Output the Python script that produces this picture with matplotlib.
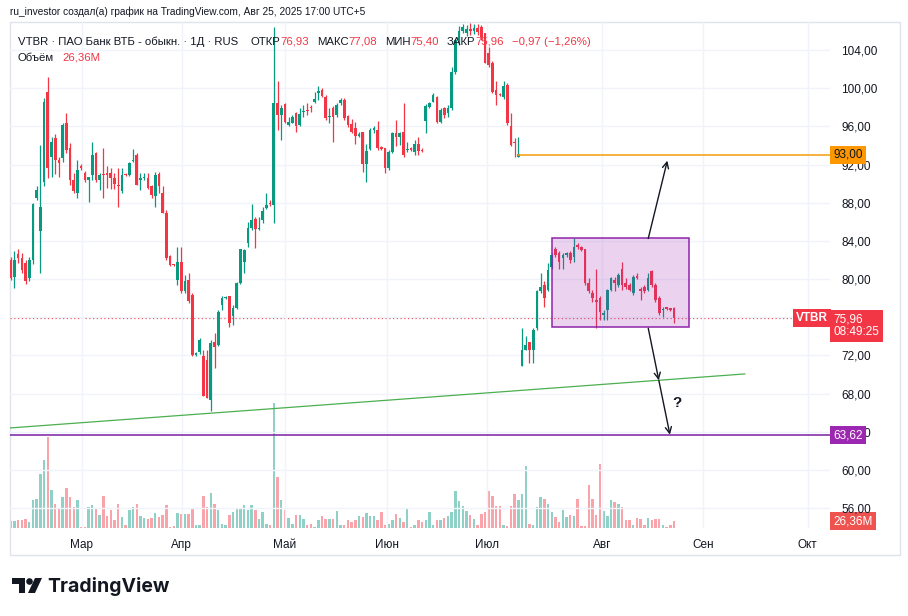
import matplotlib
matplotlib.use('Agg')
import matplotlib.pyplot as plt
from matplotlib.patches import Rectangle, Polygon, Ellipse

plt.rcParams['font.family'] = ['Liberation Sans', 'DejaVu Sans']

W, H = 908, 616

# daily candles, Feb .. Aug 25 2025 (one entry per bar)
opens = [82.0, 80.25, 82.6, 82.2, 81.7, 80.1, 82.0, 88.5, 85.0, 90.2,
         99.6, 92.8, 94.75, 92.5, 92.65, 96.3, 93.7, 90.4, 89.0, 91.85,
         91.1, 90.4, 90.9, 93.2, 90.4, 91.0, 91.1, 91.1, 90.6, 89.9,
         89.2, 91.0, 90.9, 92.4, 93.0, 90.4, 90.55, 90.6, 89.7, 88.65,
         91.05, 89.0, 86.9, 82.4, 81.5, 79.9, 81.8, 78.7, 79.9, 78.3,
         72.0, 72.4, 71.9, 71.5, 67.3, 73.45, 73.1, 77.3, 78.0, 78.2,
         76.1, 76.95, 79.6, 81.8, 83.75, 85.3, 86.25, 85.2, 86.2, 87.4,
         87.95, 87.8, 98.4, 97.2, 98.35, 96.15, 96.4, 97.4, 96.15, 97.55,
         97.7, 98.0, 98.5, 99.5, 99.8, 99.1, 96.95, 97.9, 97.2, 98.4,
         98.8, 97.1, 96.25, 95.8, 95.0, 95.45, 92.1, 93.6, 95.6, 95.6,
         93.8, 93.7, 91.6, 93.35, 95.3, 94.9, 95.45, 93.5, 93.7, 93.35,
         94.2, 93.55, 96.6, 98.05, 98.6, 99.1, 96.5, 97.9, 97.37, 97.9,
         101.7, 105.0, 106.0, 105.8, 106.2, 106.0, 106.3, 106.4, 105.75, 103.65,
         102.6, 99.8, 99.4, 99.1, 100.3, 96.0, 94.4, 92.8, 70.9, 72.6,
         73.45, 72.6, 74.85, 78.7, 79.4, 78.87, 81.3, 83.2, 82.7, 82.2,
         82.5, 82.7, 82.35, 83.57, 83.4, 83.2, 79.55, 78.5, 77.8, 78.0,
         76.25, 76.8, 78.9, 79.9, 79.4, 81.1, 79.55, 79.4, 78.5, 80.3,
         79.0, 79.2, 78.85, 80.8, 79.4, 78.0, 76.75, 77.05, 76.95, 76.93]
highs = [82.35, 82.9, 83.2, 82.7, 82.0, 82.3, 88.0, 89.75, 94.05, 99.0,
         101.2, 94.9, 95.2, 92.8, 96.3, 97.4, 94.3, 91.1, 92.5, 92.05,
         91.3, 90.7, 94.4, 93.35, 91.1, 93.7, 91.8, 91.6, 91.1, 91.6,
         91.6, 91.1, 92.3, 93.6, 93.2, 91.1, 91.1, 91.1, 89.9, 91.25,
         91.25, 89.7, 87.25, 82.5, 81.6, 83.4, 83.4, 80.4, 80.6, 78.5,
         72.4, 73.8, 72.6, 72.6, 73.6, 74.3, 76.8, 78.2, 78.2, 78.2,
         77.3, 79.7, 83.2, 83.2, 86.0, 87.9, 86.5, 86.5, 87.6, 89.0,
         88.3, 106.4, 100.7, 98.2, 98.4, 97.0, 97.2, 97.5, 97.9, 98.2,
         98.4, 98.2, 99.6, 100.2, 100.0, 99.3, 97.9, 98.1, 98.4, 98.95,
         98.95, 97.2, 96.8, 96.5, 95.45, 95.45, 94.2, 95.8, 96.0, 96.56,
         93.9, 93.7, 93.5, 95.45, 96.7, 95.45, 98.4, 94.4, 93.8, 94.6,
         94.85, 93.7, 98.3, 98.6, 99.45, 99.2, 97.9, 98.07, 98.2, 102.25,
         105.2, 106.5, 106.7, 106.6, 106.8, 106.7, 106.7, 106.6, 105.75, 104.35,
         102.8, 100.7, 99.5, 100.7, 100.5, 97.37, 94.75, 94.9, 74.9, 74.0,
         73.45, 74.85, 78.87, 80.6, 79.75, 81.7, 82.7, 83.4, 82.9, 82.7,
         82.8, 82.9, 84.27, 83.75, 83.5, 83.2, 80.1, 78.9, 81.1, 78.2,
         76.8, 79.0, 80.25, 80.25, 80.6, 81.8, 80.1, 79.55, 80.4, 80.6,
         79.2, 79.4, 80.6, 80.95, 79.55, 78.2, 77.1, 77.1, 77.0, 77.08]
lows = [79.85, 79.05, 81.7, 80.6, 79.5, 79.8, 81.6, 88.3, 80.6, 89.8,
        90.6, 90.7, 91.0, 90.7, 92.3, 93.2, 89.9, 89.0, 88.5, 91.45,
        90.2, 88.1, 90.4, 90.2, 89.3, 88.5, 89.5, 89.4, 89.4, 87.6,
        89.0, 90.8, 90.8, 92.3, 89.85, 89.3, 90.4, 89.4, 88.5, 87.6,
        89.0, 86.9, 82.0, 81.4, 81.35, 79.4, 78.5, 78.5, 77.5, 71.9,
        71.9, 72.2, 67.7, 67.5, 66.2, 70.7, 73.0, 76.8, 77.9, 75.0,
        75.2, 76.9, 79.5, 80.6, 83.4, 85.15, 83.3, 85.15, 85.85, 87.3,
        87.7, 85.85, 95.6, 94.6, 96.3, 96.0, 96.3, 95.45, 96.0, 97.0,
        97.2, 97.5, 98.4, 98.8, 99.1, 96.7, 96.3, 94.4, 97.0, 98.2,
        96.7, 95.97, 95.3, 94.2, 94.85, 91.26, 90.2, 93.5, 95.3, 93.5,
        93.5, 91.1, 91.4, 93.2, 93.9, 94.05, 92.8, 93.35, 93.4, 93.0,
        93.0, 93.35, 95.3, 97.9, 98.5, 96.4, 96.3, 96.85, 97.0, 97.7,
        101.5, 104.5, 105.8, 105.5, 105.6, 105.7, 105.6, 105.05, 102.6, 102.25,
        99.46, 98.2, 99.2, 98.9, 96.15, 93.9, 92.8, 92.76, 70.85, 72.6,
        71.2, 71.2, 74.7, 78.5, 77.12, 78.7, 81.1, 82.35, 81.1, 81.1,
        82.3, 81.65, 81.8, 83.2, 82.9, 79.38, 78.5, 77.6, 74.85, 75.7,
        75.7, 75.7, 78.7, 78.7, 79.2, 78.9, 79.0, 78.7, 78.35, 79.98,
        77.8, 78.5, 78.7, 79.2, 77.6, 76.2, 76.06, 76.8, 76.7, 75.40]
closes = [80.1, 82.0, 82.2, 80.95, 79.75, 82.0, 87.9, 89.35, 87.6, 98.6,
          91.6, 94.4, 92.5, 92.2, 96.15, 93.5, 90.4, 89.2, 91.4, 91.6,
          90.4, 90.7, 93.0, 90.4, 90.9, 90.9, 90.9, 90.6, 90.0, 89.8,
          90.9, 90.85, 92.2, 92.5, 89.9, 90.6, 90.6, 89.5, 88.8, 90.9,
          89.7, 86.9, 82.2, 81.5, 81.45, 81.8, 78.7, 79.75, 77.65, 72.05,
          72.3, 73.6, 67.7, 67.5, 73.3, 72.9, 76.6, 78.0, 78.05, 75.4,
          76.95, 79.6, 83.2, 83.0, 85.3, 86.2, 85.2, 85.4, 87.1, 87.75,
          87.9, 98.4, 97.2, 97.9, 96.5, 96.5, 97.0, 96.0, 97.3, 97.6,
          97.65, 97.9, 98.9, 99.7, 99.2, 96.85, 97.1, 97.0, 98.2, 98.8,
          96.85, 96.15, 95.45, 95.0, 95.2, 92.1, 93.45, 95.6, 95.8, 93.7,
          93.6, 91.6, 93.35, 95.3, 94.9, 95.3, 93.0, 93.6, 93.5, 94.2,
          93.4, 93.45, 98.1, 98.4, 99.3, 96.5, 97.7, 97.2, 97.9, 101.7,
          105.0, 106.0, 106.4, 106.2, 106.0, 106.3, 105.9, 105.4, 102.6, 102.4,
          99.6, 99.3, 99.3, 100.2, 96.3, 94.05, 94.3, 93.1, 72.6, 73.1,
          72.6, 74.7, 78.7, 79.2, 78.0, 80.97, 82.5, 82.5, 81.8, 82.5,
          82.7, 82.0, 83.4, 83.4, 83.05, 79.55, 78.7, 78.0, 77.6, 76.6,
          76.4, 78.9, 80.1, 79.55, 80.4, 79.4, 79.2, 78.9, 80.25, 80.1,
          78.7, 78.7, 80.1, 79.4, 77.8, 76.4, 76.9, 76.85, 76.75, 75.96]
# volume, millions of shares
volumes = [26, 26, 29, 29, 35, 23, 105, 111, 205, 256,
           344, 142, 92, 73, 117, 149, 117, 79, 107, 4,
           4, 79, 86, 73, 48, 120, 44, 67, 32, 89,
           42, 10, 67, 79, 92, 44, 39, 35, 39, 57,
           42, 48, 86, 4, 8, 57, 54, 52, 54, 77,
           10, 10, 120, 79, 130, 89, 67, 14, 10, 48,
           60, 73, 73, 86, 67, 86, 67, 35, 60, 14,
           10, 471, 193, 105, 67, 39, 14, 48, 48, 35,
           10, 16, 4, 29, 44, 35, 35, 35, 64, 13,
           13, 29, 23, 32, 44, 42, 57, 44, 44, 29,
           60, 10, 16, 29, 54, 39, 23, 77, 4, 10,
           32, 23, 29, 60, 10, 29, 32, 39, 44, 60,
           139, 102, 82, 64, 48, 35, 10, 54, 60, 140,
           120, 82, 82, 10, 6, 82, 127, 105, 127, 234,
           14, 10, 79, 115, 111, 89, 60, 42, 23, 67,
           42, 48, 44, 111, 6, 6, 161, 111, 50, 243,
           63, 44, 105, 98, 92, 79, 32, 32, 10, 39,
           35, 10, 39, 32, 35, 35, 10, 4, 10, 26.36]

month_labels = ['Мар', 'Апр', 'Май', 'Июн', 'Июл', 'Авг', 'Сен', 'Окт']
month_pos = [19.1, 46.1, 74.0, 101.5, 128.5, 159.6, 186.8, 215.1]
price_ticks = [56, 60, 64, 68, 72, 76, 80, 84, 88, 92, 96, 100, 104]

level_top = 93.00
level_low = 63.62
last_price = 75.96
trend_x = [-0.2, 198.1]
trend_y = [64.4, 70.06]
box_x = [146.1, 183.0]
box_y = [74.98, 84.3]
arrows = [((172.05, 84.25), (177.2, 92.4)),
          ((172.05, 74.85), (174.9, 69.4)),
          ((174.9, 69.4), (177.9, 63.7))]

UP = '#089981'
DOWN = '#f23645'
TXT = '#131722'


def px(x, y):
    return x / W, 1 - y / H


fig = plt.figure(figsize=(W / 100, H / 100), dpi=100)
rect = [10 / W, 1 - 528 / H, 820 / W, 506 / H]

# volume pane underneath
axv = fig.add_axes(rect, zorder=0)
n = len(closes)
xs = list(range(n))
vcol = [UP if c >= o else DOWN for o, c in zip(opens, closes)]
axv.bar(xs, volumes, width=0.66, color=vcol, alpha=0.45, linewidth=0)
axv.set_xlim(-0.2, 221.1)
axv.set_ylim(0, max(volumes) * 506 / 125)
axv.axis('off')

ax = fig.add_axes(rect, zorder=1)
ax.patch.set_visible(False)
ax.set_xlim(-0.2, 221.1)
ax.set_ylim(53.92, 106.93)
for s in ax.spines.values():
    s.set_visible(False)

ax.set_yticks(price_ticks)
# 76,00 sits under the last-price box, so its label is not shown
ax.set_yticklabels(['' if t == 76 else f'{t:.2f}'.replace('.', ',') for t in price_ticks])
ax.yaxis.tick_right()
ax.set_xticks(month_pos)
ax.set_xticklabels(month_labels)
ax.tick_params(axis='y', length=0, pad=8, labelsize=8.5, labelcolor=TXT)
ax.tick_params(axis='x', length=0, pad=8, labelsize=8.5, labelcolor=TXT)
ax.grid(True, color='#f0f3fa', lw=1, zorder=0)

# candles
ccol = [UP if c >= o else DOWN for o, c in zip(opens, closes)]
ax.vlines(xs, lows, highs, colors=ccol, lw=0.9, zorder=2)
bottoms = [min(o, c) for o, c in zip(opens, closes)]
heights = [max(abs(c - o), 0.1) for o, c in zip(opens, closes)]
ax.bar(xs, heights, bottom=bottoms, width=0.72, color=ccol, linewidth=0, zorder=3)

# drawings
ax.axhline(last_price, color=DOWN, lw=0.9, ls=(0, (1, 2)), zorder=1)
ax.plot(trend_x, trend_y, color='#4caf50', lw=0.9, zorder=4)
ax.plot([137, 221.1], [level_top, level_top], color='#f29d0c', lw=1.1, zorder=4)
ax.axhline(level_low, color='#7b1fa2', lw=1.1, zorder=4)
ax.add_patch(Rectangle((box_x[0], box_y[0]), box_x[1] - box_x[0], box_y[1] - box_y[0],
                       facecolor=(0.61, 0.15, 0.69, 0.2), edgecolor='#8e24aa', lw=1.1, zorder=5))
for start, end in arrows:
    ax.annotate('', xy=end, xytext=start,
                arrowprops=dict(arrowstyle='->', color=TXT, lw=1, shrinkA=0, shrinkB=0,
                                mutation_scale=11), zorder=6)
ax.text(179.7, 67.0, '?', fontsize=11, fontweight='bold', color=TXT, ha='center', va='center')

# labels on the price scale
yt = ax.get_yaxis_transform()
ax.text(1.004, level_top, '93,00', transform=yt, ha='left', va='center', fontsize=8.5,
        color=TXT, clip_on=False, zorder=10,
        bbox=dict(boxstyle='square,pad=0.25', fc='#ff9800', ec='none'))
ax.text(1.004, level_low, '63,62', transform=yt, ha='left', va='center', fontsize=8.5,
        color='white', clip_on=False, zorder=10,
        bbox=dict(boxstyle='square,pad=0.25', fc='#9c27b0', ec='none'))
ax.text(1.004, last_price - 0.9, '75,96\n08:49:25', transform=yt, ha='left', va='center',
        fontsize=8.5, color='white', linespacing=1.05, clip_on=False, zorder=10,
        bbox=dict(boxstyle='square,pad=0.3', fc=DOWN, ec='none'))
ax.text(0.998, last_price, 'VTBR', transform=yt, ha='right', va='center', fontsize=8.5,
        fontweight='bold', color='white', clip_on=False, zorder=10,
        bbox=dict(boxstyle='square,pad=0.25', fc=DOWN, ec='none'))
axv.text(1.004, volumes[-1], '26,36M', transform=axv.get_yaxis_transform(), ha='left',
         va='center', fontsize=8.5, color='white', clip_on=False, zorder=10,
         bbox=dict(boxstyle='square,pad=0.25', fc='#ef5350', ec='none'))

# header lines
fig.text(*px(10, 12), 'ru_investor создал(а) график на TradingView.com, Авг 25, 2025 17:00 UTC+5',
         fontsize=7.3, color=TXT, va='center')
renderer = fig.canvas.get_renderer()


def chain(x, y, parts, size=8.2):
    for text, color, gap in parts:
        t = fig.text(*px(x, y), text, fontsize=size, color=color, va='center', zorder=8)
        x = x + t.get_window_extent(renderer).width + gap


chain(18, 42, [('VTBR · ПАО Банк ВТБ - обыкн. · 1Д · RUS', TXT, 12),
               ('ОТКР', TXT, 0), ('76,93', DOWN, 8),
               ('МАКС', TXT, 0), ('77,08', DOWN, 8),
               ('МИН', TXT, 0), ('75,40', DOWN, 8),
               ('ЗАКР', TXT, 0), ('75,96', DOWN, 8),
               ('−0,97 (−1,26%)', DOWN, 0)])
chain(18, 58, [('Объём', TXT, 8), ('26,36M', DOWN, 0)])

# chart frame
fig.add_artist(Rectangle(px(10, 555), 890 / W, 533 / H, transform=fig.transFigure,
                         fill=False, ec='#e0e3eb', lw=1))

# TradingView logo
fig.add_artist(Polygon([px(12, 578), px(25, 578), px(25, 593), px(19, 593), px(19, 584), px(12, 584)],
                       closed=True, transform=fig.transFigure, fc=TXT, ec='none'))
fig.add_artist(Ellipse(px(29.5, 581.5), 6.6 / W, 6.6 / H, transform=fig.transFigure, fc=TXT, ec='none'))
fig.add_artist(Polygon([px(35, 578), px(42, 578), px(35, 593), px(28, 593)],
                       closed=True, transform=fig.transFigure, fc=TXT, ec='none'))
fig.text(*px(47, 586), 'TradingView', fontsize=14, fontweight='bold', color=TXT, va='center',
         family=['Inter', 'DejaVu Sans'])

fig.savefig('out.png', dpi=100)
